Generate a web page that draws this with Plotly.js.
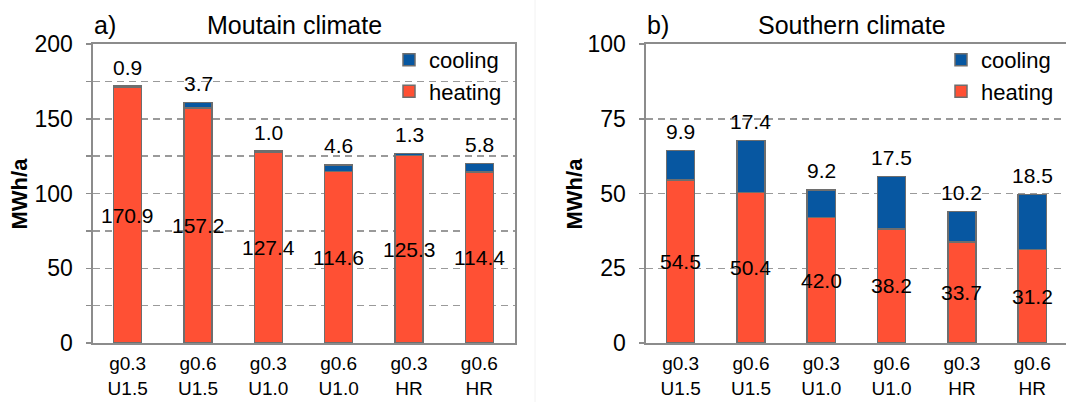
<!DOCTYPE html>
<html>
<head>
<meta charset="utf-8">
<script src="https://cdn.plot.ly/plotly-3.0.1.min.js"></script>
<style>
  html, body { margin: 0; padding: 0; background: #fff; }
  #chart { width: 1066px; height: 402px; }
</style>
</head>
<body>
<div id="chart"></div>
<script>
// ---- data ----
const categories = ['g0.3<br>U1.5', 'g0.6<br>U1.5', 'g0.3<br>U1.0', 'g0.6<br>U1.0', 'g0.3<br>HR', 'g0.6<br>HR'];
const mountainHeating = [170.9, 157.2, 127.4, 114.6, 125.3, 114.4];
const mountainCooling = [0.9, 3.7, 1.0, 4.6, 1.3, 5.8];
const southernHeating = [54.5, 50.4, 42.0, 38.2, 33.7, 31.2];
const southernCooling = [9.9, 17.4, 9.2, 17.5, 10.2, 18.5];
const mountainTicks = [0, 50, 100, 150, 200];
const southernTicks = [0, 25, 50, 75, 100];

// ---- style ----
const W = 1066;
const FONT = 'Liberation Sans, Arial, sans-serif';
const RED = '#FF5034';
const BLUE = '#0757A1';
const OUTLINE = '#6e6e6e';
const GRID = '#9a9a9a';
const AXIS = '#8c8c8c';

function bar(name, y, color, xa, ya, legend, show) {
  return {
    type: 'bar', name: name, x: categories, y: y,
    xaxis: xa, yaxis: ya, legend: legend, showlegend: show,
    width: 0.4,
    marker: { color: color, line: { color: OUTLINE, width: 1.5 } },
    hoverinfo: 'skip'
  };
}

const data = [
  bar('heating', mountainHeating, RED, 'x', 'y', 'legend', true),
  bar('cooling', mountainCooling, BLUE, 'x', 'y', 'legend', true),
  bar('heating', southernHeating, RED, 'x2', 'y2', 'legend2', true),
  bar('cooling', southernCooling, BLUE, 'x2', 'y2', 'legend2', true)
];

function valueLabels(heat, cool, xa, ya) {
  const out = [];
  categories.forEach((c, i) => {
    out.push({ x: c, y: heat[i] / 2, xref: xa, yref: ya, text: heat[i].toFixed(1),
      showarrow: false, font: { family: FONT, size: 21, color: '#000' } });
    out.push({ x: c, y: heat[i] + cool[i], xref: xa, yref: ya, text: cool[i].toFixed(1),
      showarrow: false, yanchor: 'middle', yshift: 19, font: { family: FONT, size: 21, color: '#000' } });
  });
  return out;
}

const px = v => v / W;

const annotations = [].concat(
  valueLabels(mountainHeating, mountainCooling, 'x', 'y'),
  valueLabels(southernHeating, southernCooling, 'x2', 'y2'),
  [
    { text: 'a)', xref: 'paper', yref: 'paper', x: px(92), y: 1.062, xanchor: 'left', yanchor: 'middle', showarrow: false, font: { family: FONT, size: 25, color: '#000' } },
    { text: 'Moutain climate', xref: 'paper', yref: 'paper', x: px(294), y: 1.062, xanchor: 'center', yanchor: 'middle', showarrow: false, font: { family: FONT, size: 25, color: '#000' } },
    { text: 'b)', xref: 'paper', yref: 'paper', x: px(645), y: 1.062, xanchor: 'left', yanchor: 'middle', showarrow: false, font: { family: FONT, size: 25, color: '#000' } },
    { text: 'Southern climate', xref: 'paper', yref: 'paper', x: px(852), y: 1.062, xanchor: 'center', yanchor: 'middle', showarrow: false, font: { family: FONT, size: 25, color: '#000' } },
    { text: '<b>MWh/a</b>', xref: 'paper', yref: 'paper', x: px(19), y: 0.5, xanchor: 'center', yanchor: 'middle', textangle: -90, showarrow: false, font: { family: FONT, size: 22, color: '#000' } },
    { text: '<b>MWh/a</b>', xref: 'paper', yref: 'paper', x: px(574), y: 0.5, xanchor: 'center', yanchor: 'middle', textangle: -90, showarrow: false, font: { family: FONT, size: 22, color: '#000' } }
  ]
);

function xaxis(domain, range) {
  return {
    domain: domain, range: range, type: 'category',
    showline: true, linecolor: AXIS, linewidth: 2, mirror: true,
    ticks: '', showgrid: false, zeroline: false,
    tickfont: { family: FONT, size: 19, color: '#000' },
    ticklabelstandoff: 2, fixedrange: true
  };
}
function yaxis(anchor, range, tickvals, minorDt) {
  return {
    anchor: anchor, domain: [0, 1], range: range,
    tickmode: 'array', tickvals: tickvals,
    showline: true, linecolor: AXIS, linewidth: 2, mirror: true,
    ticks: 'outside', ticklen: 5, tickcolor: AXIS, tickwidth: 1.5,
    showgrid: true, gridcolor: GRID, gridwidth: 1.5, griddash: '7px,5px',
    minor: { dtick: minorDt, showgrid: true, gridcolor: GRID, gridwidth: 1.5, griddash: '7px,5px',
             ticks: 'outside', ticklen: 5, tickcolor: AXIS, tickwidth: 1.5 },
    zeroline: false,
    tickfont: { family: FONT, size: 23, color: '#000' },
    ticklabelstandoff: 8, fixedrange: true
  };
}

const legendBase = {
  traceorder: 'reversed', bgcolor: 'rgba(0,0,0,0)', borderwidth: 0,
  font: { family: FONT, size: 22, color: '#000' },
  xanchor: 'right', yanchor: 'top', yref: 'paper', xref: 'paper', y: 1.017
};

const layout = {
  width: W, height: 402,
  margin: { l: 0, r: 0, t: 44, b: 59, pad: 0 },
  paper_bgcolor: '#fff', plot_bgcolor: '#fff',
  barmode: 'stack',
  font: { family: FONT, color: '#000' },
  xaxis: xaxis([px(92.5), px(514.5)], [-0.5, 5.5]),
  yaxis: yaxis('x', [0, 200], mountainTicks, 25),
  xaxis2: xaxis([px(645.5), 1], [-0.5, 5.48]),
  yaxis2: yaxis('x2', [0, 100], southernTicks, 25),
  legend: Object.assign({}, legendBase, { x: px(507) }),
  legend2: Object.assign({}, legendBase, { x: px(1059) }),
  annotations: annotations,
  shapes: [
    { type: 'line', xref: 'paper', yref: 'paper', x0: px(535), x1: px(535), y0: -0.2, y1: 1.15,
      line: { color: '#f2f2f2', width: 1 } }
  ]
};

Plotly.newPlot('chart', data, layout, { displayModeBar: false, staticPlot: true });
</script>
</body>
</html>
